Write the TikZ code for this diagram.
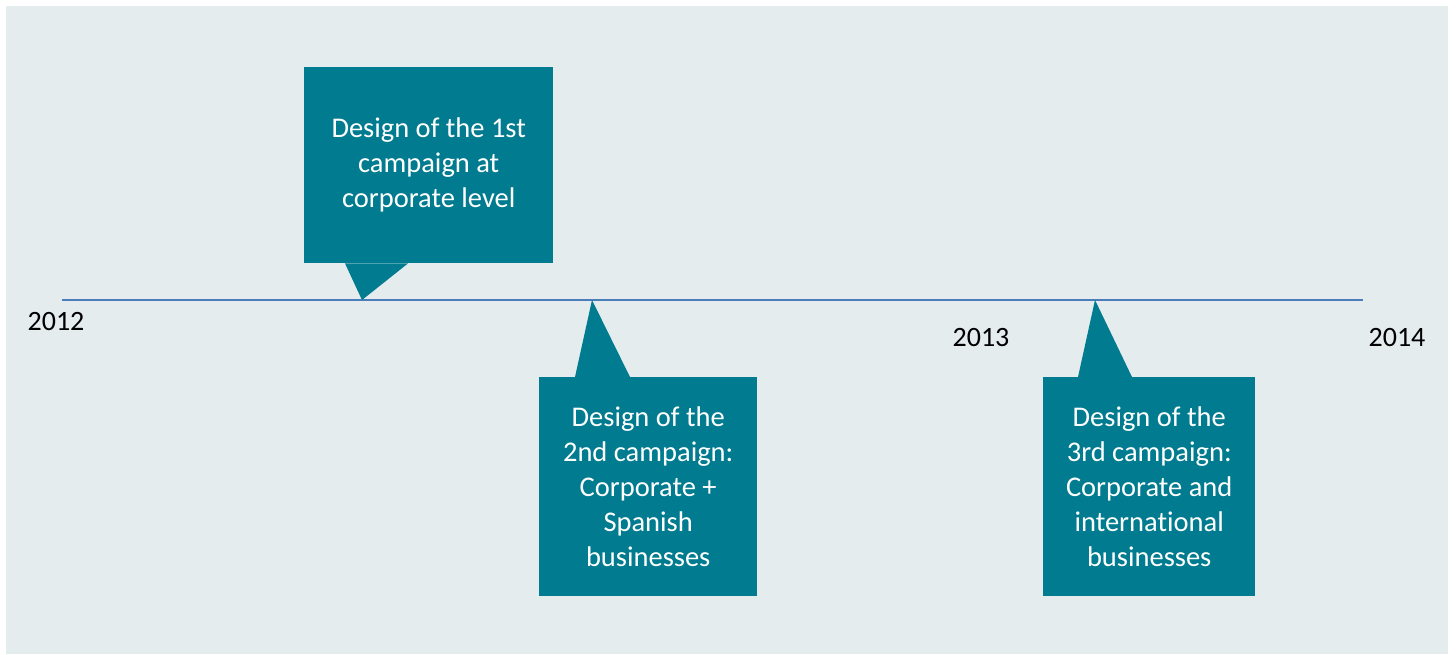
\documentclass[tikz,border=0pt]{standalone}
\usepackage{fontspec}
\setmainfont[Ligatures=NoCommon]{Carlito}
\definecolor{panelbg}{HTML}{E4ECEE}
\definecolor{teal}{HTML}{007B8F}
\definecolor{lineblue}{HTML}{4A7EBB}
\begin{document}
\begin{tikzpicture}[x=1pt,y=-1pt,
  callout/.style={fill=teal, text=white, align=center, inner sep=0pt,
    font=\fontsize{28.5}{35}\selectfont, anchor=north west},
  year/.style={font=\fontsize{28}{30}\selectfont, text=black, inner sep=0pt}]
\useasboundingbox (0,0) rectangle (1456,654);
\fill[panelbg] (6,6) rectangle (1448,654);
% timeline
\coordinate (l0) at (62,300);
\coordinate (l1) at (1363,300);
\draw[lineblue, line width=1.5pt] (l0) -- (l1);
% box 1
\node[callout, minimum width=249pt, minimum height=196pt] (b1) at (304,67)
  {Design of the 1st\\campaign at\\corporate level};
\coordinate (t1) at (362,300);
\fill[teal] ([xshift=41pt]b1.south west) -- (t1) -- ([xshift=104pt]b1.south west) -- cycle;
% box 2
\node[callout, minimum width=218pt, minimum height=219pt] (b2) at (539,377)
  {Design of the\\2nd campaign:\\Corporate +\\Spanish\\businesses};
\coordinate (t2) at (592,300);
\fill[teal] ([xshift=36pt]b2.north west) -- (t2) -- ([xshift=91pt]b2.north west) -- cycle;
% box 3
\node[callout, minimum width=212pt, minimum height=219pt] (b3) at (1043,377)
  {Design of the\\3rd campaign:\\Corporate and\\international\\businesses};
\coordinate (t3) at (1095,300);
\fill[teal] ([xshift=35pt]b3.north west) -- (t3) -- ([xshift=89pt]b3.north west) -- cycle;
% years
\node[year] (y2012) at (56,322) {2012};
\node[year] (y2013) at (981,338) {2013};
\node[year] (y2014) at (1397,338) {2014};
\end{tikzpicture}
\end{document}
